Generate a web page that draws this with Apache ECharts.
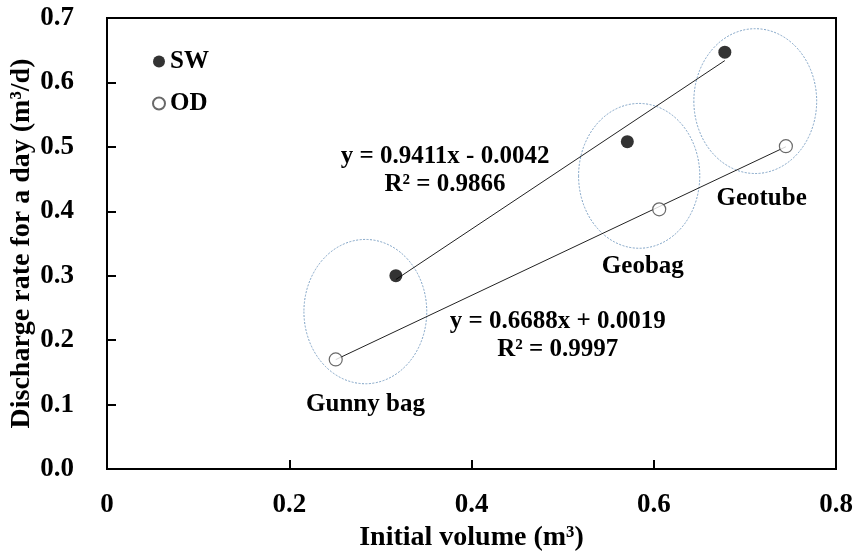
<!DOCTYPE html>
<html>
<head>
<meta charset="utf-8">
<script src="https://cdn.jsdelivr.net/npm/echarts@6/dist/echarts.min.js"></script>
<style>html,body{margin:0;padding:0;background:#fff}#c{width:859px;height:554px}</style>
</head>
<body>
<div id="c"></div>
<script>
// Data
const swX = [0.317, 0.571, 0.678];
const swY = [0.300, 0.508, 0.647];
const odX = [0.251, 0.606, 0.745];
const odY = [0.170, 0.403, 0.501];
const swFit = {slope: 0.9411, intercept: -0.0042, r2: '0.9866'};
const odFit = {slope: 0.6688, intercept: 0.0019, r2: '0.9997'};
const groupNames = ['Gunny bag', 'Geobag', 'Geotube'];
// ellipse annotation (center x, center y, radius x, radius y) in data units
const ellipses = [[0.2835, 0.2443, 0.0674, 0.1120], [0.584, 0.455, 0.0665, 0.1124], [0.7114, 0.571, 0.0674, 0.1124]];
const xTicks = [0, 0.2, 0.4, 0.6, 0.8];
const yTicks = [0, 0.1, 0.2, 0.3, 0.4, 0.5, 0.6, 0.7];

const FONT = 'Liberation Serif';
const zip = (a, b) => a.map((v, i) => [v, b[i]]);
const fitLine = (xs, f) => {
  const lo = Math.min(...xs), hi = Math.max(...xs);
  return [[lo, f.slope * lo + f.intercept], [hi, f.slope * hi + f.intercept]];
};
const eqText = f => 'y = ' + f.slope.toFixed(4) + 'x ' + (f.intercept < 0 ? '- ' : '+ ') + Math.abs(f.intercept).toFixed(4) + '\nR² = ' + f.r2;

const chart = echarts.init(document.getElementById('c'));
const txt = {fontFamily: FONT, fontWeight: 'bold', color: '#000'};

chart.setOption({
  animation: false,
  backgroundColor: '#fff',
  grid: {left: 107, top: 18, right: 23, bottom: 85, containLabel: false, outerBoundsMode: 'none',
    show: true, borderColor: '#000', borderWidth: 2, backgroundColor: 'transparent'},
  legend: {
    data: ['SW', 'OD'], orient: 'vertical', left: 147, top: 44,
    itemWidth: 12, itemHeight: 12, itemGap: 17,
    textStyle: Object.assign({fontSize: 25, padding: [0, 0, 0, 0]}, txt)
  },
  xAxis: {
    type: 'value', min: 0, max: 0.8, interval: 0.2,
    name: 'Initial volume (m³)', nameLocation: 'middle', nameGap: 53,
    nameTextStyle: Object.assign({fontSize: 28}, txt),
    axisLine: {show: true, lineStyle: {color: '#000', width: 2}},
    axisTick: {show: true, inside: true, length: 9, lineStyle: {color: '#000', width: 2}},
    axisLabel: Object.assign({fontSize: 27, margin: 23, formatter: v => v === 0 ? '0' : String(v)}, txt),
    splitLine: {show: false}
  },
  yAxis: {
    type: 'value', min: 0, max: 0.7, interval: 0.1,
    name: 'Discharge rate for a day (m³/d)', nameLocation: 'middle', nameGap: 71, nameMoveOverlap: false,
    nameTextStyle: Object.assign({fontSize: 28}, txt),
    axisLine: {show: true, lineStyle: {color: '#000', width: 2}},
    axisTick: {show: true, inside: true, length: 9, lineStyle: {color: '#000', width: 2}},
    axisLabel: Object.assign({fontSize: 27, margin: 33, formatter: v => v.toFixed(1)}, txt),
    splitLine: {show: false}
  },
  series: [
    {
      type: 'custom', name: 'ellipses', silent: true, z: 1,
      data: ellipses,
      renderItem: (params, api) => {
        const c = api.coord([api.value(0), api.value(1)]);
        const s = api.size([api.value(2), api.value(3)]);
        const rx = s[0], ry = s[1];
        const d = 'M' + (c[0] - rx) + ' ' + c[1] + ' A' + rx + ' ' + ry + ' 0 1 0 ' + (c[0] + rx) + ' ' + c[1] +
          ' A' + rx + ' ' + ry + ' 0 1 0 ' + (c[0] - rx) + ' ' + c[1] + ' Z';
        return {type: 'path', shape: {pathData: d}, style: {fill: 'none', stroke: '#7fa3c6', lineWidth: 1, lineDash: [2, 1.5]}};
      }
    },
    {type: 'line', name: 'SW fit', data: fitLine(swX, swFit), symbol: 'none', lineStyle: {color: '#222', width: 1}, z: 2, silent: true},
    {type: 'line', name: 'OD fit', data: fitLine(odX, odFit), symbol: 'none', lineStyle: {color: '#222', width: 1}, z: 2, silent: true},
    {type: 'scatter', name: 'SW', data: zip(swX, swY), symbol: 'circle', symbolSize: 13, itemStyle: {color: '#000'}, z: 3},
    {type: 'scatter', name: 'OD', data: zip(odX, odY), symbol: 'circle', symbolSize: 13, itemStyle: {color: '#fff', borderColor: '#444', borderWidth: 1.2}, z: 3}
  ]
});

// Text annotations placed at data positions
const labels = [
  {x: 0.2837, y: 0.0998, text: groupNames[0], size: 25},
  {x: 0.588, y: 0.3137, text: groupNames[1], size: 25},
  {x: 0.7184, y: 0.4203, text: groupNames[2], size: 25},
  {x: 0.371, y: 0.4626, text: eqText(swFit), size: 25},
  {x: 0.4947, y: 0.2075, text: eqText(odFit), size: 25}
];
chart.setOption({
  graphic: labels.map(l => {
    const p = chart.convertToPixel({gridIndex: 0}, [l.x, l.y]);
    return {type: 'text', x: p[0], y: p[1], z: 10, silent: true,
      style: {text: l.text, fontFamily: FONT, fontWeight: 'bold', fontSize: l.size, fill: '#000', align: 'center', verticalAlign: 'middle', lineHeight: 28}};
  })
});
</script>
</body>
</html>
